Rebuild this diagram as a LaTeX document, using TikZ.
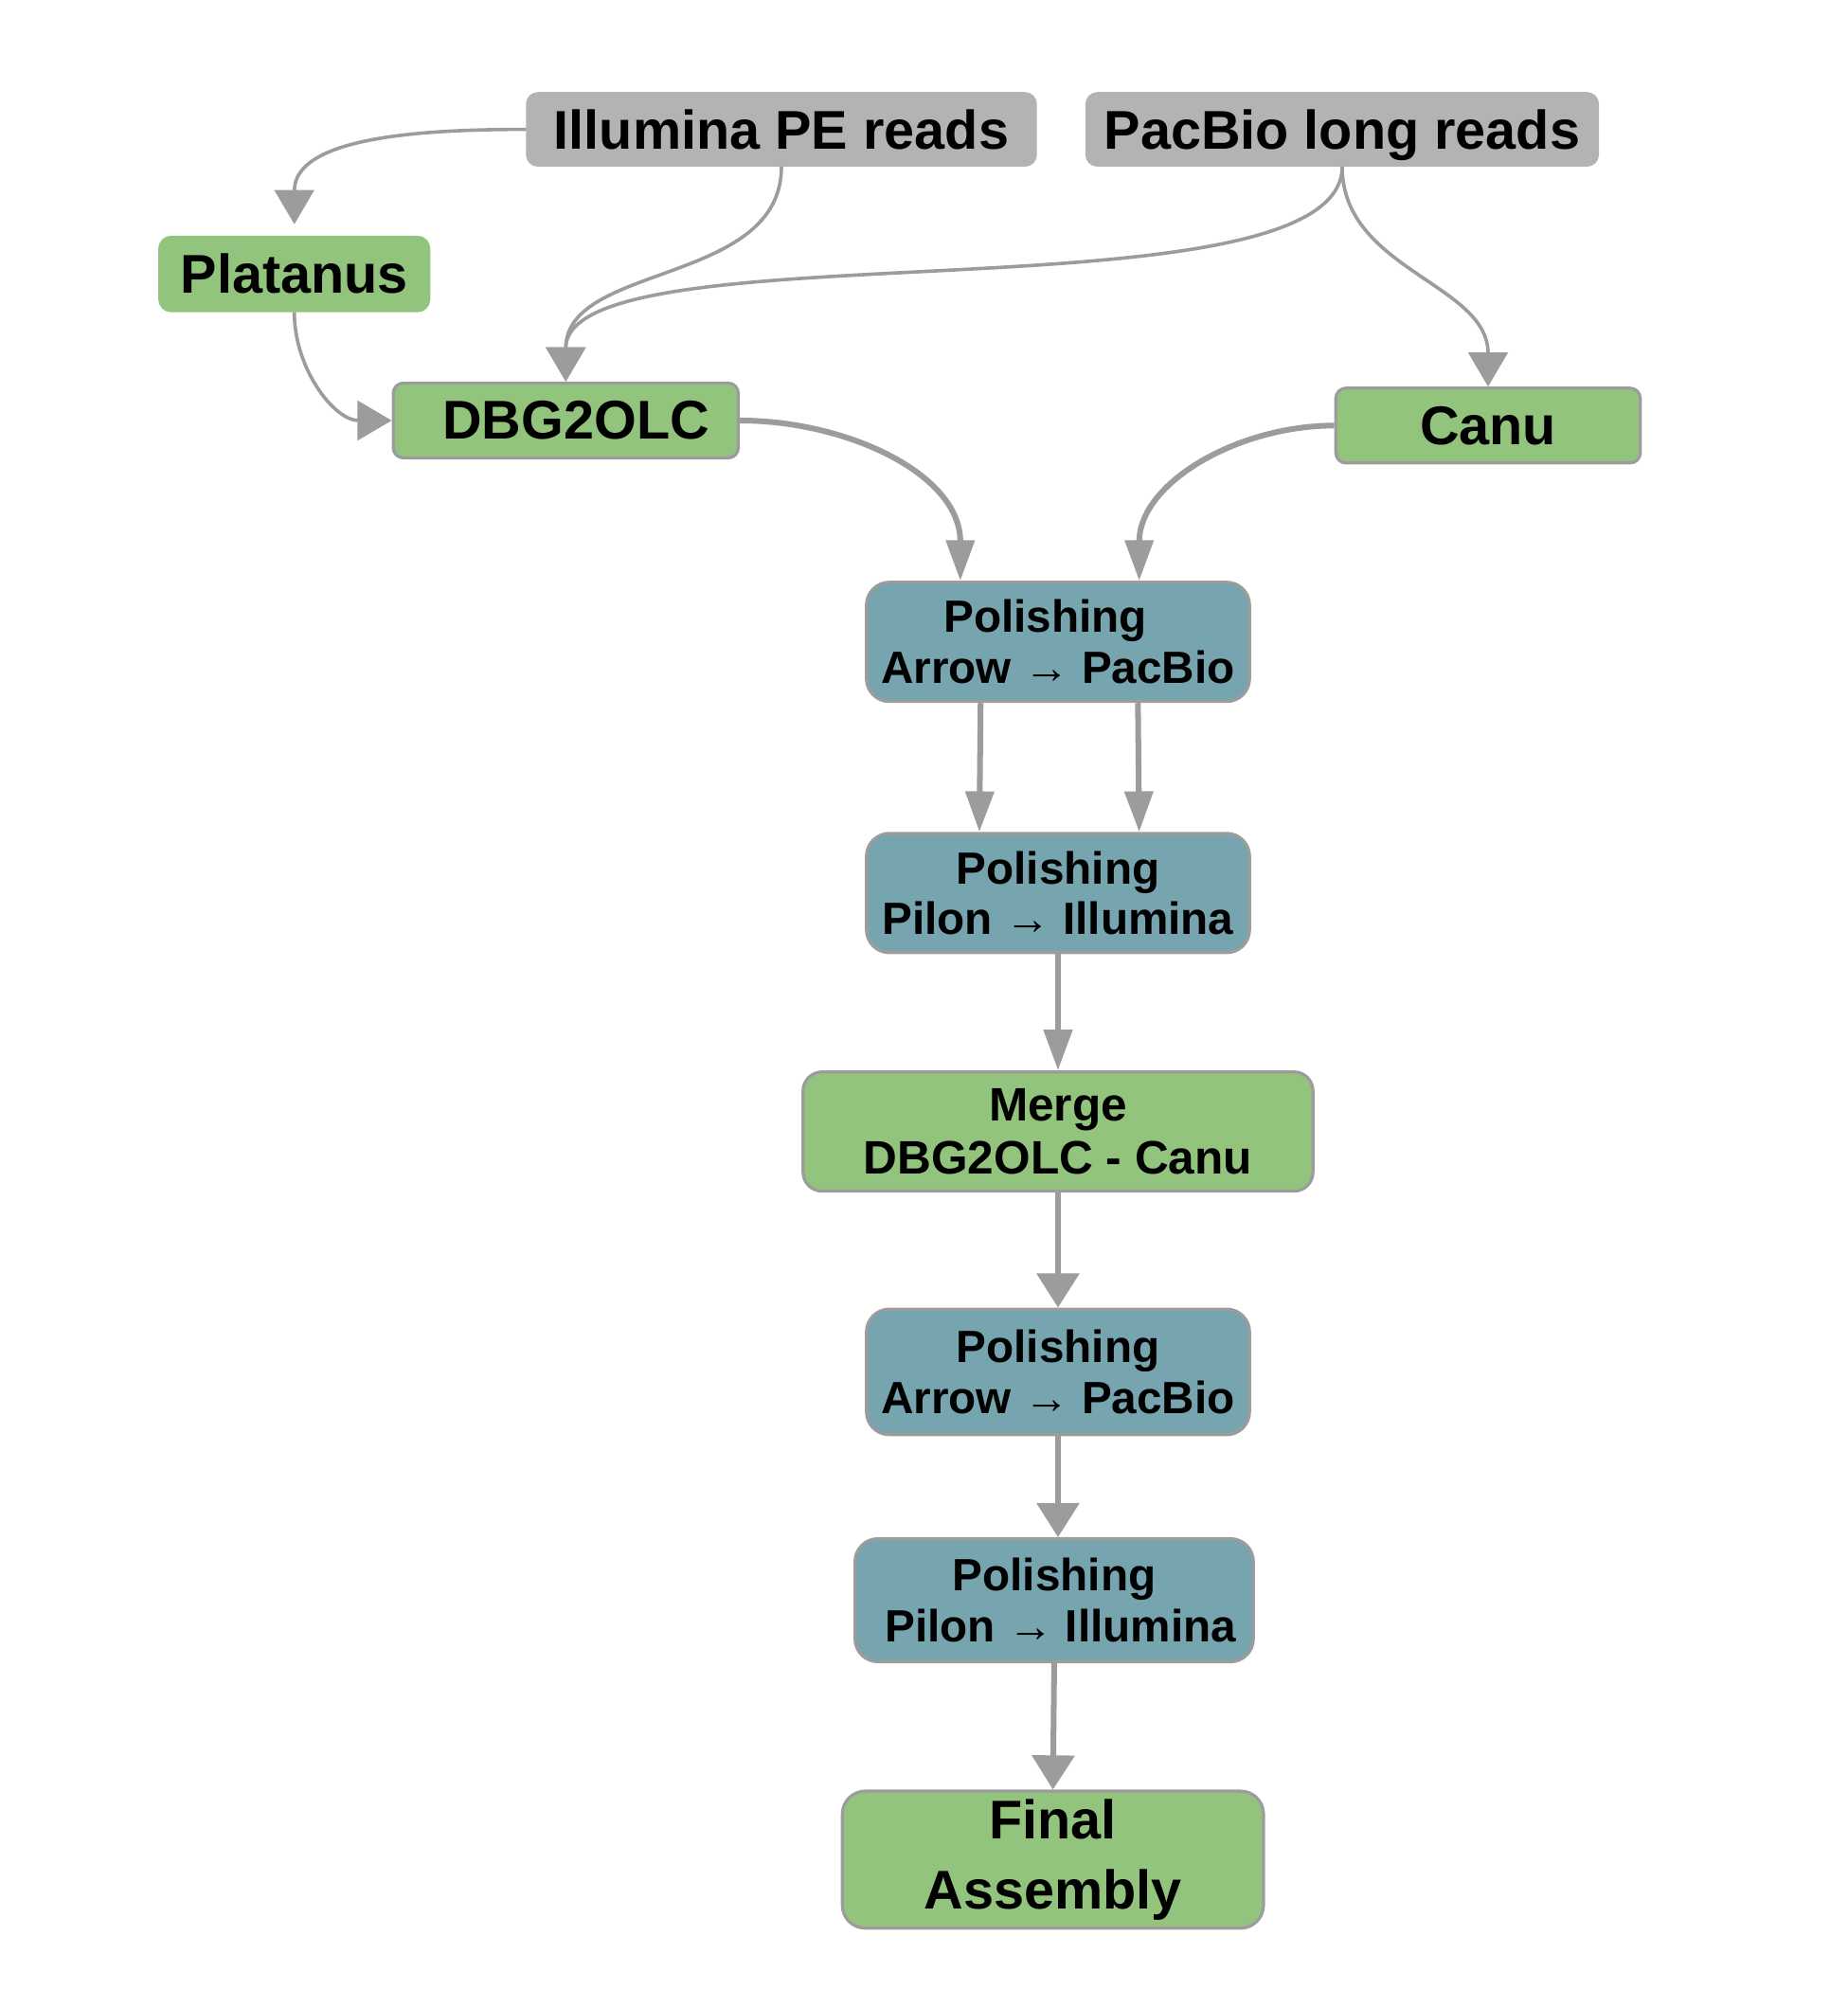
\documentclass[tikz,border=0pt]{standalone}
\usepackage{fontspec}
\setmainfont{Liberation Sans}
\usetikzlibrary{arrows.meta,calc}
\definecolor{readgray}{HTML}{B3B3B3}
\definecolor{asmgreen}{HTML}{93C47D}
\definecolor{polteal}{HTML}{76A5AF}
\definecolor{edgegray}{HTML}{9C9C9C}

\begin{document}
\begin{tikzpicture}[x=0.5pt,y=-0.5pt,
    reads/.style={fill=readgray, draw=readgray, rounded corners=4.5pt, minimum height=29pt,
      text height=18pt, text depth=2.5pt},
    asm/.style={fill=asmgreen, draw=edgegray, line width=1.2pt},
    pol/.style={fill=polteal, draw=edgegray, line width=1.2pt, rounded corners=9pt,
      minimum width=151pt, minimum height=47pt, font=\fontsize{17.8}{20}\selectfont\bfseries},
    feed/.style={line width=1.35pt, -{Triangle[length=13.5pt,width=15.5pt]}},
    link/.style={line width=2.25pt, -{Triangle[length=16pt,width=11pt]}},
    chain/.style={line width=2.25pt, -{Triangle[length=13.5pt,width=16.5pt]}}]

      \useasboundingbox (0,0) rectangle (1456,1568);

      \begin{scope}[every node/.style={inner sep=0pt, align=center,
          font=\fontsize{21.5}{24}\selectfont\bfseries}]
        \node[reads, minimum width=201pt] (1) at (616,102) {Illumina PE reads};
        \node[reads, minimum width=202pt] (2) at (1058,102) {PacBio long reads};
        \node[asm, draw=asmgreen, rounded corners=4.5pt, minimum width=106pt, minimum height=29pt] (3) at (232,216) {Platanus};
        \node[asm, rounded corners=4pt, minimum width=136pt, minimum height=29.5pt] (4) at (446,331.5) {\hspace*{8pt}DBG2OLC};
        \node[asm, rounded corners=4pt, minimum width=120pt, minimum height=29.5pt] (5) at (1173,335.5) {Canu};
        \node[pol] (6) at (834,506) {Polishing\hspace*{10pt}\\Arrow → PacBio};
        \node[pol] (7) at (834,704) {Polishing\\Pilon → Illumina};
        \node[asm, rounded corners=7.5pt, minimum width=201pt, minimum height=47pt,
          font=\fontsize{18.5}{21}\selectfont\bfseries] (8) at (834,892) {Merge\\DBG2OLC - Canu};
        \node[pol, minimum height=49.5pt] (9) at (834,1081.5) {Polishing\\Arrow → PacBio};
        \node[pol, minimum width=157pt, minimum height=48.5pt] (10) at (831,1261.5) {Polishing\\\hspace*{5pt}Pilon → Illumina};
        \node[asm, rounded corners=9pt, minimum width=166pt, minimum height=54pt,
          font=\fontsize{21.5}{27.5}\selectfont\bfseries] (11) at (830,1466) {Final\\Assembly};
      \end{scope}

      \begin{scope}[every edge/.style={draw=edgegray}]
        \path (1.west)  edge[feed, out=180, in=90, shorten >=4.5pt] (3.north);
        \path (1.south) edge[feed, out=-90, in=90] (4.north);
        \path (2.south) edge[feed, out=-90, in=90, looseness=0.5] (4.north);
        \path (2.south) edge[feed, out=-90, in=90] (5.north);
        \path (3.south) edge[feed, out=-90, in=180] (4.west);
        \path (4.east)  edge[link, out=0, in=90] ($(6.north)+(-77,0)$);
        \path (5.west)  edge[link, out=180, in=90] ($(6.north)+(64,0)$);
        \path ($(6.south)+(-61,0)$) edge[link] ($(7.north)+(-62,0)$);
        \path ($(6.south)+(63,0)$)  edge[link] ($(7.north)+(64,0)$);
        \path (7.south) edge[link]  (8.north);
        \path (8.south) edge[chain] (9.north);
        \path (9.south) edge[chain] (9.south |- 10.north);
        \path (10.south) edge[chain] (11.north);
      \end{scope}

    \end{tikzpicture}
\end{document}
